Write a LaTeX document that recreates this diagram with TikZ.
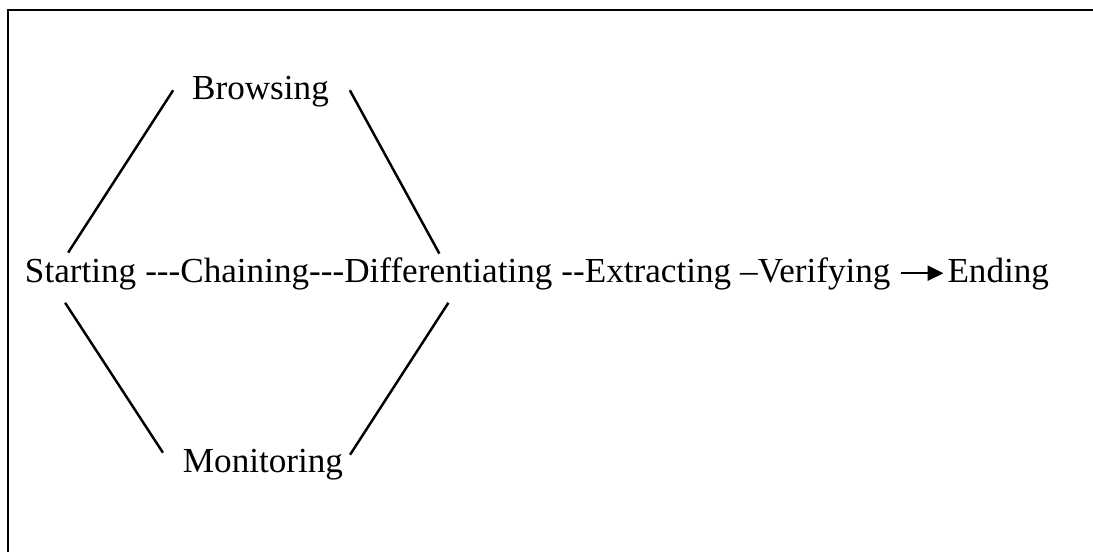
\documentclass[tikz,border=0pt]{standalone}
\usepackage{fontspec}
\setmainfont{Liberation Serif}[Ligatures=TeXOff]
\usetikzlibrary{arrows.meta,positioning}
\tikzset{
  stagetext/.style={inner sep=0pt,outer sep=0pt,text height=15pt,text depth=5pt,font=\fontsize{20}{24}\selectfont},
}

\begin{document}
\begin{tikzpicture}[x=0.02cm,y=-0.02cm,
    link/.style={line width=1.4pt},
    arrow/.style={-{Triangle[length=0.32cm,width=0.3cm]},line width=1.4pt},
  ]
    \useasboundingbox (0,0) rectangle (1093,552);
    %────────── FRAME ──────────────
    \draw[line width=1.2pt] (1093,10) -- (8,10) -- (8,552);

    %────────── MAIN LINE ──────────
    \node[stagetext,anchor=base west] (start) at (25,282) {Starting};
    \node[stagetext,base right=0.18cm of start] (chain) {---Chaining---};
    \node[stagetext,base right=0pt of chain] (diff) {Differentiating};
    \node[stagetext,base right=0.18cm of diff] (extr) {--Extracting};
    \node[stagetext,base right=0.18cm of extr] (verif) {–Verifying};
    \node[stagetext,base right=1.14cm of verif] (ending) {Ending};
    \draw[arrow,shorten <=0.2cm,shorten >=0.08cm] (verif) -- (ending);

    %────────── BRANCHES ───────────
    \node[stagetext,anchor=base] (browse) at (260.5,99) {Browsing};
    \node[stagetext,anchor=base] (monitor) at (263,472) {Monitoring};
    \draw[link] ([xshift=-0.38cm]browse.west) -- ([xshift=-0.25cm,yshift=0.06cm]start.north);
    \draw[link] ([xshift=0.42cm]browse.east) -- ([xshift=-0.18cm,yshift=0.04cm]diff.north);
    \draw[link] ([xshift=-0.31cm,yshift=-0.24cm]start.south) -- ([xshift=-0.4cm,yshift=0.21cm]monitor.west);
    \draw[link] ([yshift=-0.24cm]diff.south) -- ([xshift=0.14cm,yshift=0.17cm]monitor.east);
  \end{tikzpicture}
\end{document}
